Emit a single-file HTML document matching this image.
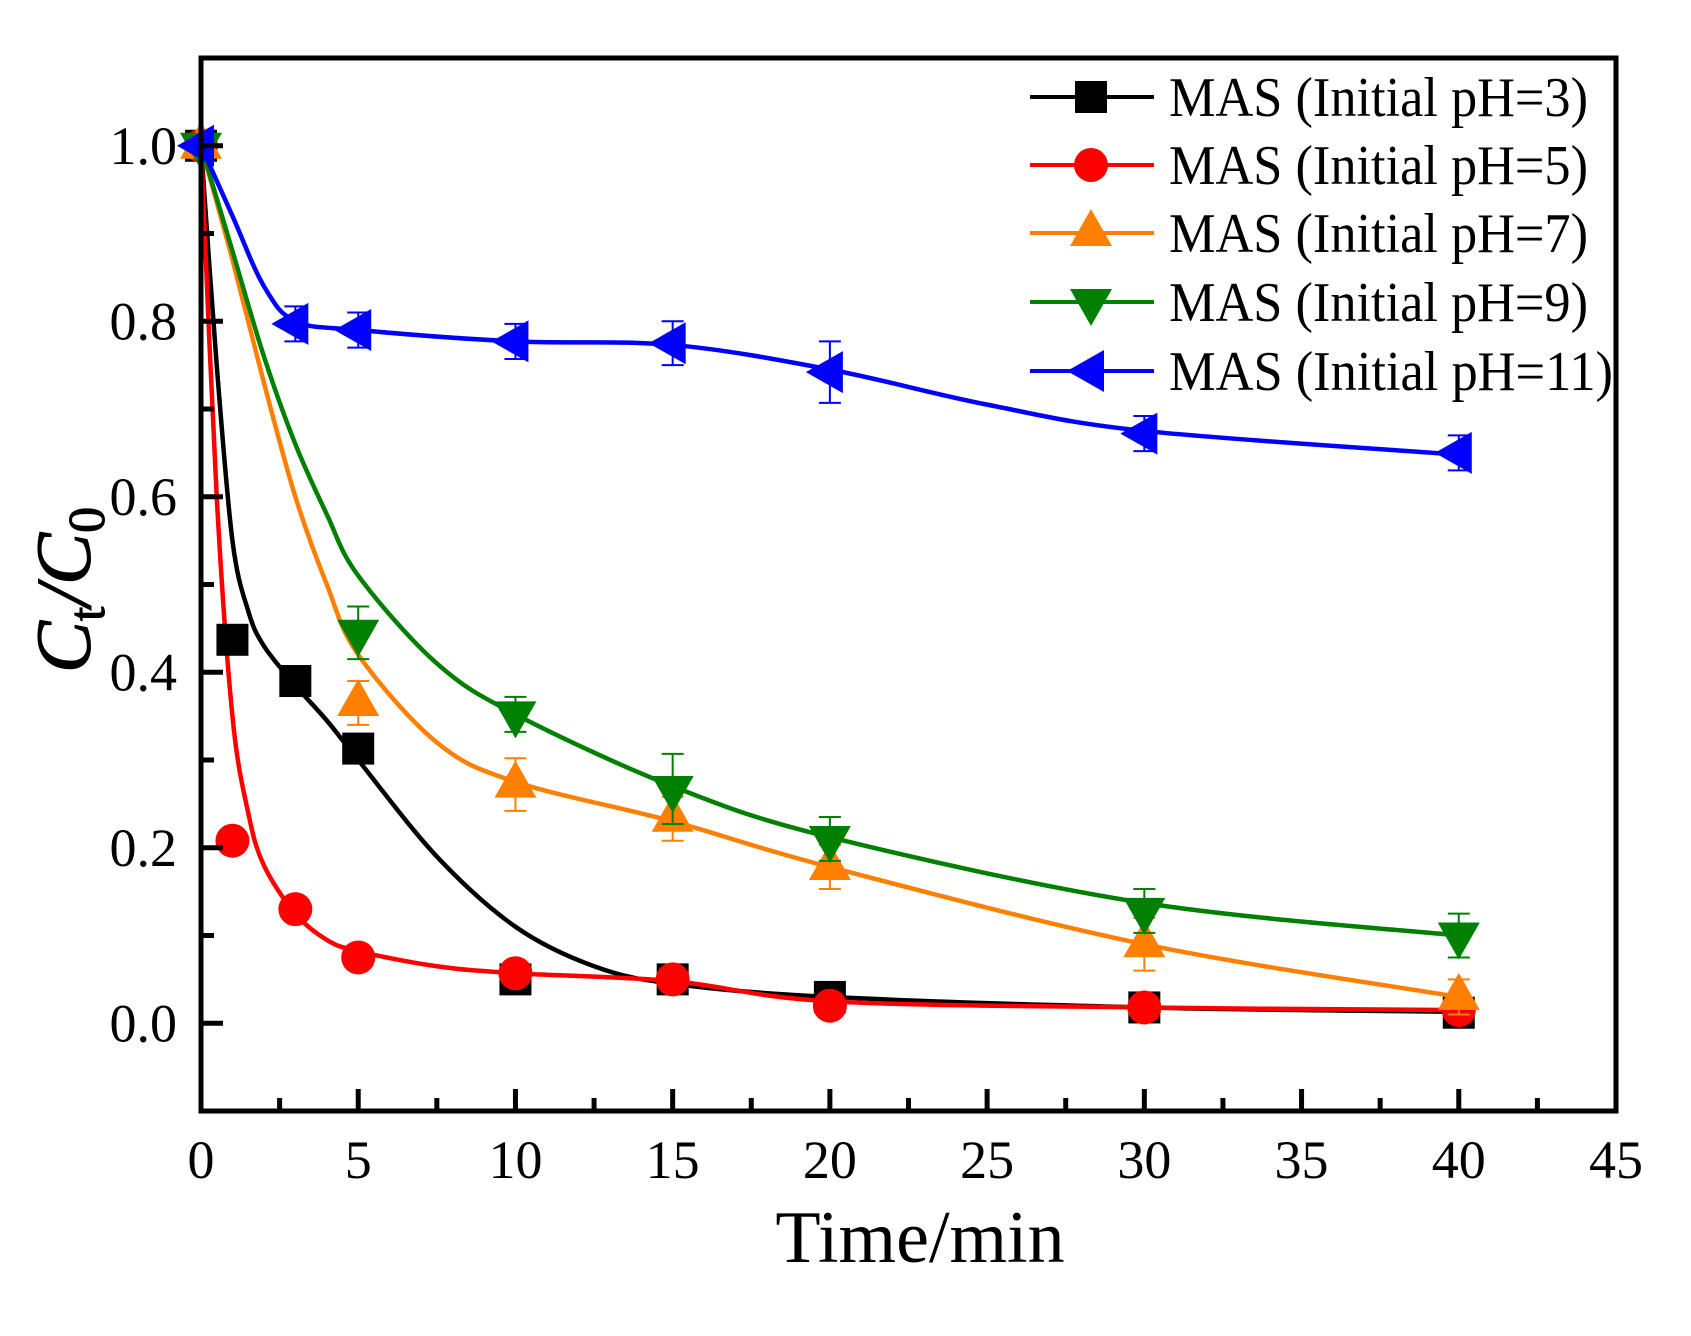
<!DOCTYPE html>
<html><head><meta charset="utf-8"><style>
html,body{margin:0;padding:0;background:#fff;}
svg{display:block;}
text{font-family:"Liberation Serif",serif;}
</style></head><body>
<svg id="chart" width="1691" height="1336" viewBox="0 0 1691 1336" xmlns="http://www.w3.org/2000/svg">
<rect width="1691" height="1336" fill="#fff"/>
<g id="curves"></g>
<g id="marks"></g>
<g id="axes"></g>
<g id="legend"></g>
</svg>
<script>
const xTicks=[0,5,10,15,20,25,30,35,40,45];
const yTicks=[0.0,0.2,0.4,0.6,0.8,1.0];
const yTickLabels=["0.0","0.2","0.4","0.6","0.8","1.0"];
const seriesNames=["MAS (Initial pH=3)","MAS (Initial pH=5)","MAS (Initial pH=7)","MAS (Initial pH=9)","MAS (Initial pH=11)"];
const seriesColors=["#000000","#ff0000","#ff8000","#008000","#0000ff"];
const seriesShapes=["square","circle","up","down","left"];
// measured points
const x3=[0,1,3,5,10,15,20,30,40];
const y3=[1.0,0.437,0.39,0.313,0.05,0.05,0.03,0.018,0.012];
const e3=[0,0.01,0.01,0.015,0.008,0.005,0.005,0.005,0.005];
const x5=[0,1,3,5,10,15,20,30,40];
const y5=[1.0,0.208,0.13,0.075,0.057,0.05,0.02,0.018,0.015];
const e5=[0,0.005,0.005,0.005,0.008,0.005,0.005,0.005,0.005];
const x7=[0,5,10,15,20,30,40];
const y7=[1.0,0.365,0.272,0.233,0.178,0.09,0.03];
const e7=[0,0.025,0.03,0.025,0.025,0.03,0.02];
const x9=[0,5,10,15,20,30,40];
const y9=[1.0,0.445,0.352,0.267,0.21,0.128,0.1];
const e9=[0,0.03,0.02,0.04,0.025,0.025,0.025];
const x11=[0,3,5,10,15,20,30,40];
const y11=[1.0,0.797,0.79,0.777,0.775,0.742,0.672,0.65];
const e11=[0,0.02,0.02,0.02,0.025,0.035,0.02,0.02];
// fitted curves
const fx3=[0,0.5,1,1.5,2,3,4,5,7.5,10,12.5,15,20,30,40];
const fy3=[1,0.75,0.55,0.47,0.43,0.385,0.345,0.30,0.19,0.11,0.065,0.045,0.03,0.018,0.013];
const fx5=[0,0.5,1,1.5,2,3,4,5,7.5,10,15,20,30,40];
const fy5=[1,0.6,0.35,0.24,0.18,0.125,0.095,0.082,0.065,0.057,0.048,0.025,0.018,0.015];
const fx7=[0,1,2,3,4,5,7.5,10,15,20,30,40];
const fy7=[1,0.87,0.73,0.6,0.5,0.42,0.32,0.275,0.23,0.178,0.09,0.03];
const fx9=[0,1,2,3,4,5,7.5,10,15,20,30,40];
const fy9=[1,0.88,0.76,0.66,0.58,0.51,0.41,0.352,0.27,0.212,0.137,0.1];
const fx11=[0,1,2,3,5,10,15,20,25,30,40];
const fy11=[1,0.92,0.84,0.80,0.79,0.777,0.773,0.745,0.705,0.675,0.648];

const PX0=201,PX1=1616,PY0=1111,PY1=58;
const XMIN=0,XMAX=45,YMIN=-0.1,YMAX=1.1;
function sx(v){return PX0+(v-XMIN)/(XMAX-XMIN)*(PX1-PX0);}
function sy(v){return PY0-(v-YMIN)/(YMAX-YMIN)*(PY0-PY1);}
const NS="http://www.w3.org/2000/svg";
function mk(tag,attrs,parent){const e=document.createElementNS(NS,tag);for(const k in attrs)e.setAttribute(k,attrs[k]);parent.appendChild(e);return e;}

function smoothPath(xs,ys){
  const p=xs.map((x,i)=>[sx(x),sy(ys[i])]);
  let d="M"+p[0][0]+","+p[0][1];
  for(let i=0;i<p.length-1;i++){
    const p0=p[i-1]||p[i],p1=p[i],p2=p[i+1],p3=p[i+2]||p2;
    const c1=[p1[0]+(p2[0]-p0[0])/6,p1[1]+(p2[1]-p0[1])/6];
    const c2=[p2[0]-(p3[0]-p1[0])/6,p2[1]-(p3[1]-p1[1])/6];
    d+=" C"+c1[0]+","+c1[1]+" "+c2[0]+","+c2[1]+" "+p2[0]+","+p2[1];
  }
  return d;
}
function marker(shape,cx,cy,color,parent){
  let e;
  if(shape==="square")e=mk("rect",{x:cx-16,y:cy-16,width:32,height:32,fill:color},parent);
  else if(shape==="circle")e=mk("circle",{cx:cx,cy:cy,r:17,fill:color},parent);
  else if(shape==="up")e=mk("polygon",{points:`${cx},${cy-24} ${cx+21},${cy+13} ${cx-21},${cy+13}`,fill:color},parent);
  else if(shape==="down")e=mk("polygon",{points:`${cx},${cy+24} ${cx+21},${cy-13} ${cx-21},${cy-13}`,fill:color},parent);
  else e=mk("polygon",{points:`${cx-24},${cy} ${cx+13},${cy-21} ${cx+13},${cy+21}`,fill:color},parent);
  return e;
}
const pts=[[x3,y3,e3],[x5,y5,e5],[x7,y7,e7],[x9,y9,e9],[x11,y11,e11]];
const fits=[[fx3,fy3],[fx5,fy5],[fx7,fy7],[fx9,fy9],[fx11,fy11]];
const gC=document.getElementById("curves"),gM=document.getElementById("marks");
fits.forEach((f,s)=>{
  const p=mk("path",{d:smoothPath(f[0],f[1]),fill:"none",stroke:seriesColors[s],"stroke-width":4.5},gC);
  
  
});
pts.forEach((d,s)=>{
  d[0].forEach((x,i)=>{
    const cx=sx(x),cy=sy(d[1][i]),e=d[2][i];
    if(e>0){
      const ya=sy(d[1][i]+e),yb=sy(d[1][i]-e);
      const eb=mk("path",{d:`M${cx},${ya} L${cx},${yb} M${cx-11},${ya} L${cx+11},${ya} M${cx-11},${yb} L${cx+11},${yb}`,stroke:seriesColors[s],"stroke-width":2,fill:"none"},gM);
      
      
    }
    const m=marker(seriesShapes[s],cx,cy,seriesColors[s],gM);
    
    
  });
});
// axes
const gA=document.getElementById("axes");
const frame=mk("rect",{x:PX0,y:PY1,width:PX1-PX0,height:PY0-PY1,fill:"none",stroke:"#000","stroke-width":5},gA);


xTicks.forEach(v=>{
  const x=sx(v);
  const t=mk("line",{x1:x,y1:PY0,x2:x,y2:PY0-22,stroke:"#000","stroke-width":5},gA);
  
  
  const l=mk("text",{x:x,y:1178,"font-size":54,"text-anchor":"middle"},gA);l.textContent=v;
  
  
  if(v<45){const m=mk("line",{x1:sx(v+2.5),y1:PY0,x2:sx(v+2.5),y2:PY0-13,stroke:"#000","stroke-width":5},gA);
  
  }
});
yTicks.forEach((v,i)=>{
  const y=sy(v);
  const t=mk("line",{x1:PX0,y1:y,x2:PX0+22,y2:y,stroke:"#000","stroke-width":5},gA);
  
  
  const l=mk("text",{x:177,y:y+18,"font-size":54,"text-anchor":"end"},gA);l.textContent=yTickLabels[i];
  
  
});
[-0.1,0.1,0.3,0.5,0.7,0.9].forEach(v=>{
  const m=mk("line",{x1:PX0,y1:sy(v),x2:PX0+13,y2:sy(v),stroke:"#000","stroke-width":5},gA);
  
  
});
const xt=mk("text",{x:920,y:1262,"font-size":74,"text-anchor":"middle"},gA);xt.textContent="Time/min";


const yt=mk("text",{transform:"translate(90,590) rotate(-90)","font-size":78,"text-anchor":"middle","font-style":"italic","stroke":"#000","stroke-width":1},gA);
yt.innerHTML='C<tspan font-size="52" dy="14" font-style="normal">t</tspan><tspan dy="-14">/C</tspan><tspan font-size="52" dy="14" font-style="normal">0</tspan>';


// legend
const gL=document.getElementById("legend");
const rows=[97,165,233,302,371];
const tl=[419,419,419,419,444];
seriesNames.forEach((n,s)=>{
  const y=rows[s];
  const g=mk("g",{},gL);
  
  
  mk("line",{x1:1030,y1:y,x2:1154,y2:y,stroke:seriesColors[s],"stroke-width":4},g);
  marker(seriesShapes[s],1091,y,seriesColors[s],g);
  const t=mk("text",{x:1169,y:y+19,"font-size":56,textLength:tl[s],lengthAdjust:"spacingAndGlyphs"},g);
  t.textContent=n;
});
</script>
</body></html>
